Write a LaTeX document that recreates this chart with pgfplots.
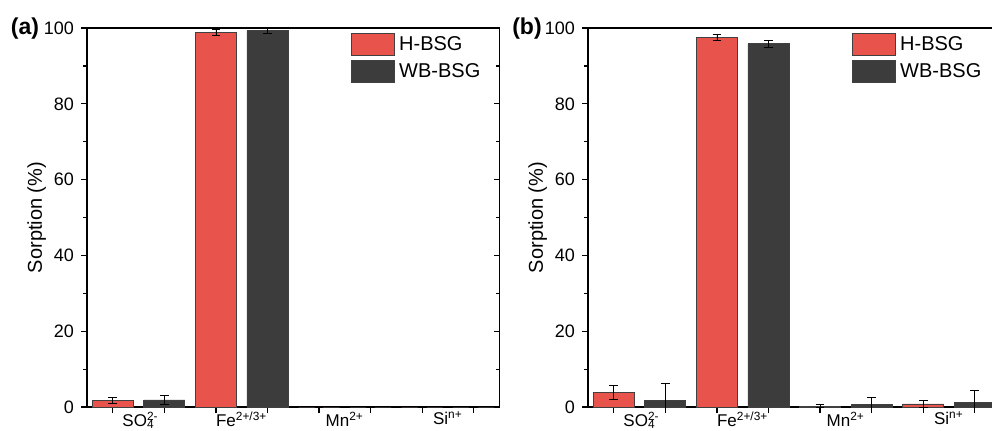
\documentclass[border=0pt]{standalone}
\usepackage{fontspec}
\setmainfont{Liberation Sans}
\usepackage{pgfplots}
\usepackage{pgfplotstable}
\pgfplotsset{compat=1.18}
\definecolor{hred}{HTML}{E8534B}
\definecolor{wbdark}{HTML}{3C3C3C}

\pgfplotstableread{
x y e
0.25 1.7 0.8
1.25 98.9 0.8
2.25 0 0
3.25 0 0
}\aH
\pgfplotstableread{
x y e
0.75 1.85 1.1
1.75 99.3 0.7
2.75 0 0
3.75 0 0
}\aW
\pgfplotstableread{
x y e
0.25 3.9 1.8
1.25 97.5 0.7
2.25 0.2 0.4
3.25 0.8 0.9
}\bH
\pgfplotstableread{
x y e
0.75 1.8 4.5
1.75 95.9 0.9
2.75 0.7 1.8
3.75 1.3 3.1
}\bW

\pgfplotsset{
 panel/.style={
  scale only axis, width=206.25pt, height=189.5pt,
  xmin=0, xmax=4, ymin=0, ymax=100,
  ytick={0,20,...,100}, minor y tick num=1,
  xtick={0.25,0.75,1.25,1.75,2.25,2.75,3.25,3.75},
  xticklabels={},
  extra x ticks={0.5,1.5,2.5,3.5},
  extra x tick labels={SO\rlap{\textsuperscript{2-}}\textsubscript{4},Fe\textsuperscript{2+/3+},Mn\textsuperscript{2+},Si\textsuperscript{n+}},
  extra x tick style={major tick length=0pt, xticklabel style={yshift=1pt}},
  tick align=outside, xtick pos=bottom, ytick pos=left,
  major tick length=3pt, minor tick length=1.8pt,
  tick style={black, line width=0.6pt},
  axis line style={line width=0.6pt},
  ylabel={Sorption (\%)},
  ylabel style={font=\fontsize{10}{12}\selectfont, at={(axis description cs:-0.122,0.5)}, anchor=center},
  xticklabel style={font=\fontsize{8.5}{10}\selectfont},
  yticklabel style={font=\fontsize{9}{11}\selectfont},
  /pgf/number format/assume math mode=true,
  legend style={draw=none, fill=none, at={(0.64,0.99)}, anchor=north west, font=\fontsize{10}{11}\selectfont, row sep=1pt, inner sep=0pt},
  legend image code/.code={\draw[#1] (0pt,-5.5pt) rectangle (21.5pt,5.5pt);},
  legend cell align=left,
 },
 rticks/.style={
  scale only axis, width=206.25pt, height=189.5pt,
  xmin=0, xmax=4, ymin=0, ymax=100,
  hide x axis, axis y line*=right, y axis line style={draw=none},
  ytick={0,20,...,100}, minor y tick num=1, yticklabels={},
  tick align=inside, major tick length=3pt, minor tick length=1.8pt,
  tick style={black, line width=0.6pt},
 },
 bars/.style={ybar, bar width=20.5pt, bar shift=0pt, draw=black!75, line width=0.4pt,
  error bars/y dir=both, error bars/y explicit,
  error bars/error mark options={rotate=90, mark size=2.2pt, line width=0.4pt, black},
  error bars/error bar style={line width=0.4pt, black}},
}

\begin{document}
\begin{tikzpicture}
\begin{axis}[panel, at={(43.5pt,11.5pt)}, anchor=south west]
\addplot[bars, fill=hred] table[x=x,y=y,y error=e]{\aH};
\addplot[bars, fill=wbdark] table[x=x,y=y,y error=e]{\aW};
\legend{H-BSG, WB-BSG}
\end{axis}
\begin{axis}[rticks, at={(43.5pt,11.5pt)}, anchor=south west]
\addplot[draw=none] coordinates {(0,0)};
\end{axis}
\begin{axis}[panel, at={(294pt,11.5pt)}, anchor=south west]
\addplot[bars, fill=hred] table[x=x,y=y,y error=e]{\bH};
\addplot[bars, fill=wbdark] table[x=x,y=y,y error=e]{\bW};
\legend{H-BSG, WB-BSG}
\end{axis}
\begin{axis}[rticks, at={(294pt,11.5pt)}, anchor=south west]
\addplot[draw=none] coordinates {(0,0)};
\end{axis}
\node[font=\bfseries\fontsize{11.5}{13}\selectfont] at (12.5pt,200.5pt) {(a)};
\node[font=\bfseries\fontsize{11.5}{13}\selectfont] at (263.5pt,200.5pt) {(b)};
\pgfresetboundingbox
\useasboundingbox (0,0) rectangle (496pt,215pt);
\end{tikzpicture}
\end{document}
